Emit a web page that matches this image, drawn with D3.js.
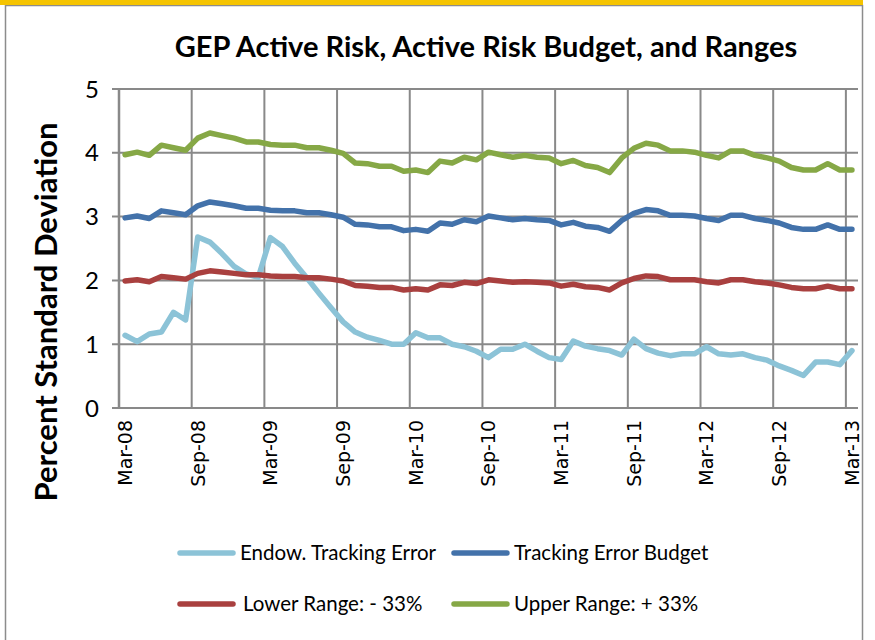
<!DOCTYPE html>
<html>
<head>
<meta charset="utf-8">
<script src="https://cdn.jsdelivr.net/npm/d3@7"></script>
<style>
  body { margin: 0; background: #fff; }
</style>
</head>
<body>
<div id="chart"></div>
<script>
// monthly categories Mar-08 .. Mar-13
var months = d3.timeMonth.range(new Date(2008, 2, 1), new Date(2013, 3, 1));
var fmt = d3.timeFormat("%b-%y");

var yTicks = [0, 1, 2, 3, 4, 5];

var trackingError = [
  1.14, 1.04, 1.16, 1.19, 1.50, 1.38, 2.68, 2.60, 2.42, 2.22, 2.10, 2.05,
  2.67, 2.53, 2.27, 2.04, 1.80, 1.57, 1.35, 1.19, 1.11, 1.06, 1.00, 1.00,
  1.18, 1.10, 1.10, 1.00, 0.96, 0.89, 0.79, 0.92, 0.92, 1.00, 0.89, 0.79,
  0.76, 1.05, 0.97, 0.93, 0.90, 0.83, 1.08, 0.93, 0.86, 0.82, 0.85, 0.85,
  0.96, 0.85, 0.83, 0.85, 0.79, 0.75, 0.66, 0.59, 0.51, 0.72, 0.72, 0.68, 0.90
];
var budget = [
  2.98, 3.01, 2.97, 3.09, 3.06, 3.03, 3.17, 3.23, 3.20, 3.17, 3.13, 3.13,
  3.10, 3.09, 3.09, 3.06, 3.06, 3.03, 2.99, 2.88, 2.87, 2.84, 2.84, 2.78,
  2.80, 2.77, 2.90, 2.88, 2.95, 2.92, 3.01, 2.98, 2.95, 2.97, 2.95, 2.94,
  2.87, 2.91, 2.85, 2.83, 2.77, 2.94, 3.05, 3.11, 3.09, 3.02, 3.02, 3.01,
  2.97, 2.94, 3.02, 3.02, 2.97, 2.94, 2.90, 2.83, 2.80, 2.80, 2.87, 2.80, 2.80
];
var lowerRange = [
  1.99, 2.01, 1.98, 2.06, 2.04, 2.02, 2.11, 2.15, 2.13, 2.11, 2.09, 2.09,
  2.07, 2.06, 2.06, 2.04, 2.04, 2.02, 1.99, 1.92, 1.91, 1.89, 1.89, 1.85,
  1.87, 1.85, 1.93, 1.92, 1.97, 1.95, 2.01, 1.99, 1.97, 1.98, 1.97, 1.96,
  1.91, 1.94, 1.90, 1.89, 1.85, 1.96, 2.03, 2.07, 2.06, 2.01, 2.01, 2.01,
  1.98, 1.96, 2.01, 2.01, 1.98, 1.96, 1.93, 1.89, 1.87, 1.87, 1.91, 1.87, 1.87
];
var upperRange = [
  3.97, 4.01, 3.96, 4.12, 4.08, 4.04, 4.23, 4.31, 4.27, 4.23, 4.17, 4.17,
  4.13, 4.12, 4.12, 4.08, 4.08, 4.04, 3.99, 3.84, 3.83, 3.79, 3.79, 3.71,
  3.73, 3.69, 3.87, 3.84, 3.93, 3.89, 4.01, 3.97, 3.93, 3.96, 3.93, 3.92,
  3.83, 3.88, 3.80, 3.77, 3.69, 3.92, 4.07, 4.15, 4.12, 4.03, 4.03, 4.01,
  3.96, 3.92, 4.03, 4.03, 3.96, 3.92, 3.87, 3.77, 3.73, 3.73, 3.83, 3.73, 3.73
];

var seriesNames = ["Endow. Tracking Error", "Tracking Error Budget", "Lower Range: - 33%", "Upper Range: + 33%"];
var seriesColors = ["#8cc3d7", "#4372aa", "#a9403f", "#86a846"];
var seriesValues = [trackingError, budget, lowerRange, upperRange];

var width = 875, height = 640;
var plot = { left: 119, right: 858, top: 89, bottom: 408 };
var gridColor = "#898989";

var svg = d3.select("#chart").append("svg")
    .attr("width", width)
    .attr("height", height);

// outer frame with gold strip on top
svg.append("rect")
    .attr("x", 5.5).attr("y", 5.5)
    .attr("width", 857).attr("height", 660)
    .attr("fill", "none")
    .attr("stroke", "#8c8c8c")
    .attr("stroke-width", 1.5);
svg.append("rect")
    .attr("x", 0).attr("y", 0)
    .attr("width", 863).attr("height", 5)
    .attr("fill", "#f5c400");

var x = d3.scaleBand()
    .domain(months.map(function (d, i) { return i; }))
    .range([plot.left, plot.right])
    .padding(0);

var y = d3.scaleLinear()
    .domain([0, 5])
    .range([plot.bottom, plot.top]);

// horizontal gridlines (with small tick stubs left of the axis)
svg.append("g").selectAll("line")
    .data(yTicks)
    .enter().append("line")
    .attr("x1", plot.left - 7)
    .attr("x2", plot.right)
    .attr("y1", function (d) { return y(d); })
    .attr("y2", function (d) { return y(d); })
    .attr("stroke", gridColor)
    .attr("stroke-width", 2);

// vertical gridlines every 6 months, at category boundaries
var gridIdx = months.map(function (d, i) { return i; }).filter(function (i) { return i % 6 === 0; });
svg.append("g").selectAll("line")
    .data(gridIdx)
    .enter().append("line")
    .attr("x1", function (i) { return x(i); })
    .attr("x2", function (i) { return x(i); })
    .attr("y1", plot.top)
    .attr("y2", plot.bottom)
    .attr("stroke", gridColor)
    .attr("stroke-width", function (i) { return i === 0 ? 2.5 : 2; });

// y tick labels
svg.append("g").selectAll("text")
    .data(yTicks)
    .enter().append("text")
    .attr("x", plot.left - 20)
    .attr("y", function (d) { return y(d); })
    .attr("dy", "0.36em")
    .attr("text-anchor", "end")
    .style("font-family", "Lato, sans-serif")
    .style("font-size", "24px")
    .attr("fill", "#000")
    .text(function (d) { return d; });

// x tick labels, rotated
svg.append("g").selectAll("text")
    .data(gridIdx)
    .enter().append("text")
    .attr("transform", function (i) {
        return "translate(" + (x(i) + x.bandwidth() / 2) + "," + (plot.bottom + 12) + ") rotate(-90)";
    })
    .attr("dy", "0.36em")
    .attr("text-anchor", "end")
    .style("font-family", "'DejaVu Sans', sans-serif")
    .style("font-size", "19px")
    .attr("fill", "#000")
    .text(function (i) { return fmt(months[i]); });

// lines
var line = d3.line()
    .x(function (d, i) { return x(i) + x.bandwidth() / 2; })
    .y(function (d) { return y(d); });

svg.append("g").selectAll("path")
    .data(seriesValues)
    .enter().append("path")
    .attr("d", line)
    .attr("fill", "none")
    .attr("stroke", function (d, i) { return seriesColors[i]; })
    .attr("stroke-width", 5.5)
    .attr("stroke-linejoin", "round")
    .attr("stroke-linecap", "round");

// title
svg.append("text")
    .attr("x", 486)
    .attr("y", 57)
    .attr("text-anchor", "middle")
    .style("font-family", "Lato, sans-serif")
    .style("font-weight", "bold")
    .style("font-size", "29px")
    .text("GEP Active Risk, Active Risk Budget, and Ranges");

// y axis title
svg.append("text")
    .attr("transform", "translate(46,312) rotate(-90)")
    .attr("text-anchor", "middle")
    .attr("dy", "0.36em")
    .style("font-family", "Lato, sans-serif")
    .style("font-weight", "bold")
    .style("font-size", "31px")
    .text("Percent Standard Deviation");

// legend, 2 x 2
var legendPos = [[180, 553], [454, 553], [180, 604], [454, 604]];
var legend = svg.append("g").selectAll("g")
    .data(seriesNames)
    .enter().append("g")
    .attr("transform", function (d, i) { return "translate(" + legendPos[i][0] + "," + legendPos[i][1] + ")"; });

legend.append("line")
    .attr("x1", 0).attr("x2", 53)
    .attr("y1", 0).attr("y2", 0)
    .attr("stroke", function (d, i) { return seriesColors[i]; })
    .attr("stroke-width", 5.5)
    .attr("stroke-linecap", "round");

legend.append("text")
    .attr("x", function (d, i) { return i === 2 ? 63 : 60; })
    .attr("dy", "0.36em")
    .style("font-family", "Lato, sans-serif")
    .style("font-size", "20.5px")
    .text(function (d) { return d; });
</script>
</body>
</html>
